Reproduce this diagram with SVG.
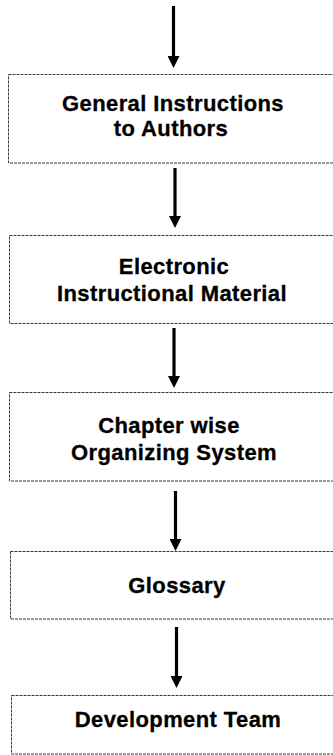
<svg xmlns="http://www.w3.org/2000/svg" width="333" height="755" viewBox="0 0 333 755">
<style>
.box{fill:#fff;stroke:#3a3a3a;stroke-width:1;stroke-dasharray:3 1}
.t{font-family:"Liberation Sans",Arial,sans-serif;font-weight:bold;font-size:22px;letter-spacing:0.4px;fill:#000;stroke:#000;stroke-width:0.3;text-anchor:middle}
.c{stroke:#000;stroke-width:3.2;fill:none;marker-end:url(#ah)}
</style>
<defs>
<marker id="ah" markerUnits="userSpaceOnUse" viewBox="0 0 12 12" markerWidth="12" markerHeight="12" refX="0" refY="6" orient="auto">
<path d="M0,0 L12,6 L0,12 Z" fill="#000"/>
</marker>
</defs>
<rect width="333" height="755" fill="#fff"/>
<g id="connectors">
<line class="c" x1="173.5" y1="6" x2="173.5" y2="56"/>
<line class="c" x1="175" y1="168" x2="175" y2="216"/>
<line class="c" x1="174" y1="328" x2="174" y2="376"/>
<line class="c" x1="175.5" y1="491" x2="175.5" y2="539"/>
<line class="c" x1="176.5" y1="627" x2="176.5" y2="676"/>
</g>
<g id="n1">
<rect class="box" x="8.5" y="74.5" width="340" height="88.5"/>
<text class="t" x="173" y="111">General Instructions</text>
<text class="t" x="171" y="136">to Authors</text>
</g>
<g id="n2">
<rect class="box" x="9.5" y="235.5" width="340" height="88"/>
<text class="t" x="174" y="274">Electronic</text>
<text class="t" x="172" y="301">Instructional Material</text>
</g>
<g id="n3">
<rect class="box" x="9.5" y="392.5" width="340" height="88.5"/>
<text class="t" x="169" y="433">Chapter wise</text>
<text class="t" x="174" y="460">Organizing System</text>
</g>
<g id="n4">
<rect class="box" x="10.5" y="551.5" width="340" height="67.5"/>
<text class="t" x="177" y="593">Glossary</text>
</g>
<g id="n5">
<rect class="box" x="11.5" y="695.5" width="340" height="58.5"/>
<text class="t" x="178" y="727">Development Team</text>
</g>
</svg>
